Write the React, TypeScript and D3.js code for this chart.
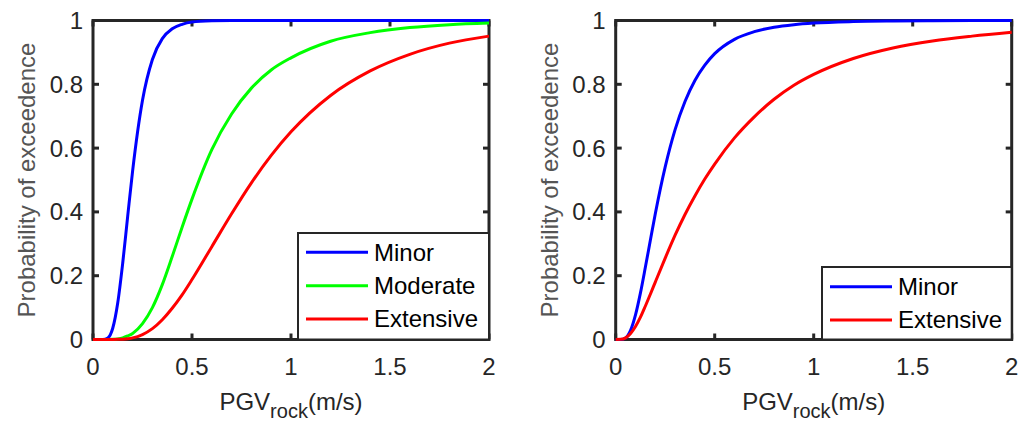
import * as d3 from "d3";

// PGV (m/s) sample points
const pgv = [0, 0.025, 0.05, 0.075, 0.1, 0.125, 0.15, 0.175, 0.2, 0.25, 0.3, 0.35, 0.4, 0.45, 0.5, 0.6, 0.7, 0.8, 0.9, 1.0, 1.2, 1.4, 1.6, 1.8, 2.0];

// left panel
const leftMinor = [0, 0, 0.0001, 0.005, 0.036, 0.115, 0.239, 0.385, 0.528, 0.75, 0.878, 0.943, 0.974, 0.988, 0.995, 0.999, 1, 1, 1, 1, 1, 1, 1, 1, 1];
const leftModerate = [0, 0, 0, 0, 0.0005, 0.002, 0.005, 0.011, 0.019, 0.05, 0.1, 0.172, 0.26, 0.352, 0.44, 0.595, 0.707, 0.788, 0.845, 0.883, 0.935, 0.962, 0.978, 0.987, 0.992];
const leftExtensive = [0, 0, 0, 0, 0.0001, 0.0004, 0.001, 0.0025, 0.005, 0.0155, 0.034, 0.062, 0.098, 0.14, 0.188, 0.291, 0.394, 0.491, 0.577, 0.651, 0.765, 0.842, 0.894, 0.929, 0.951];

// right panel
const rightMinor = [0, 0.0001, 0.005, 0.0285, 0.077, 0.146, 0.227, 0.311, 0.394, 0.541, 0.658, 0.746, 0.812, 0.86, 0.896, 0.941, 0.965, 0.979, 0.987, 0.992, 0.9967, 0.9985, 0.9993, 0.9997, 0.9999];
const rightExtensive = [0, 0.0004, 0.005, 0.019, 0.041, 0.07, 0.105, 0.142, 0.18, 0.255, 0.327, 0.392, 0.45, 0.503, 0.55, 0.632, 0.698, 0.753, 0.797, 0.831, 0.881, 0.914, 0.936, 0.951, 0.963];

const xTicks = [0, 0.5, 1, 1.5, 2];
const xTickLabels = ["0", "0.5", "1", "1.5", "2"];
const yTicks = [0, 0.2, 0.4, 0.6, 0.8, 1];
const yTickLabels = ["0", "0.2", "0.4", "0.6", "0.8", "1"];

const FONT = "'Liberation Sans', Arial, sans-serif";
const AX = "#262626";

type Series = { name: string; color: string; values: number[] };

function Panel({ left, series, legend }: { left: number; series: Series[]; legend: { x: number; y: number; w: number; rowY: number[] } }) {
  const w = 396;
  const top = 20.5;
  const bottom = 339.5;
  const x = d3.scaleLinear().domain([0, 2]).range([left, left + w]);
  const y = d3.scaleLinear().domain([0, 1]).range([bottom, top]);
  const line = d3
    .line<number>()
    .x((_, i) => x(pgv[i]))
    .y((v) => y(v))
    .curve(d3.curveMonotoneX);
  const tl = 6;

  return (
    <g>
      <rect x={left} y={top} width={w} height={bottom - top} fill="#fff" stroke={AX} strokeWidth={3} />
      {xTicks.map((t, i) => (
        <g key={"x" + i}>
          <line x1={x(t)} x2={x(t)} y1={bottom} y2={bottom - tl} stroke={AX} strokeWidth={3} />
          <line x1={x(t)} x2={x(t)} y1={top} y2={top + tl} stroke={AX} strokeWidth={3} />
          <text x={x(t)} y={375} textAnchor="middle" fontSize={24} fill={AX} fontFamily={FONT}>
            {xTickLabels[i]}
          </text>
        </g>
      ))}
      {yTicks.map((t, i) => (
        <g key={"y" + i}>
          <line x1={left} x2={left + tl} y1={y(t)} y2={y(t)} stroke={AX} strokeWidth={3} />
          <line x1={left + w} x2={left + w - tl} y1={y(t)} y2={y(t)} stroke={AX} strokeWidth={3} />
          <text x={left - 10} y={y(t)} dy="0.35em" textAnchor="end" fontSize={24} fill={AX} fontFamily={FONT}>
            {yTickLabels[i]}
          </text>
        </g>
      ))}
      {series.map((s) => (
        <path key={s.name} d={line(s.values) ?? ""} fill="none" stroke={s.color} strokeWidth={3} />
      ))}
      <text x={x(1)} y={410} textAnchor="middle" fontSize={24} fill={AX} fontFamily={FONT}>
        PGV
        <tspan fontSize={20} dy={8}>rock</tspan>
        <tspan fontSize={24} dy={-8}>(m/s)</tspan>
      </text>
      <text
        transform={`translate(${left - 58},${(top + bottom) / 2}) rotate(-90)`}
        textAnchor="middle"
        fontSize={24}
        fill="#555"
        fontFamily={FONT}
      >
        Probability of exceedence
      </text>
      <rect x={legend.x} y={legend.y} width={legend.w} height={bottom - legend.y} fill="#fff" stroke={AX} strokeWidth={2} />
      {series.map((s, i) => (
        <g key={"lg" + s.name}>
          <line x1={legend.x + 8} x2={legend.x + 70} y1={legend.rowY[i]} y2={legend.rowY[i]} stroke={s.color} strokeWidth={3} />
          <text x={legend.x + 76} y={legend.rowY[i]} dy="0.35em" fontSize={24} fill="#000" fontFamily={FONT}>
            {s.name}
          </text>
        </g>
      ))}
    </g>
  );
}

export default function App() {
  const leftSeries: Series[] = [
    { name: "Minor", color: "#0000ff", values: leftMinor },
    { name: "Moderate", color: "#00ff00", values: leftModerate },
    { name: "Extensive", color: "#ff0000", values: leftExtensive },
  ];
  const rightSeries: Series[] = [
    { name: "Minor", color: "#0000ff", values: rightMinor },
    { name: "Extensive", color: "#ff0000", values: rightExtensive },
  ];
  return (
    <svg width={1029} height={423} style={{ position: "absolute", left: 0, top: 0, background: "#fff" }}>
      <Panel left={93} series={leftSeries} legend={{ x: 298, y: 233, w: 191, rowY: [252.3, 285.7, 319] }} />
      <Panel left={615.7} series={rightSeries} legend={{ x: 822, y: 267, w: 189.7, rowY: [286.7, 320] }} />
    </svg>
  );
}
